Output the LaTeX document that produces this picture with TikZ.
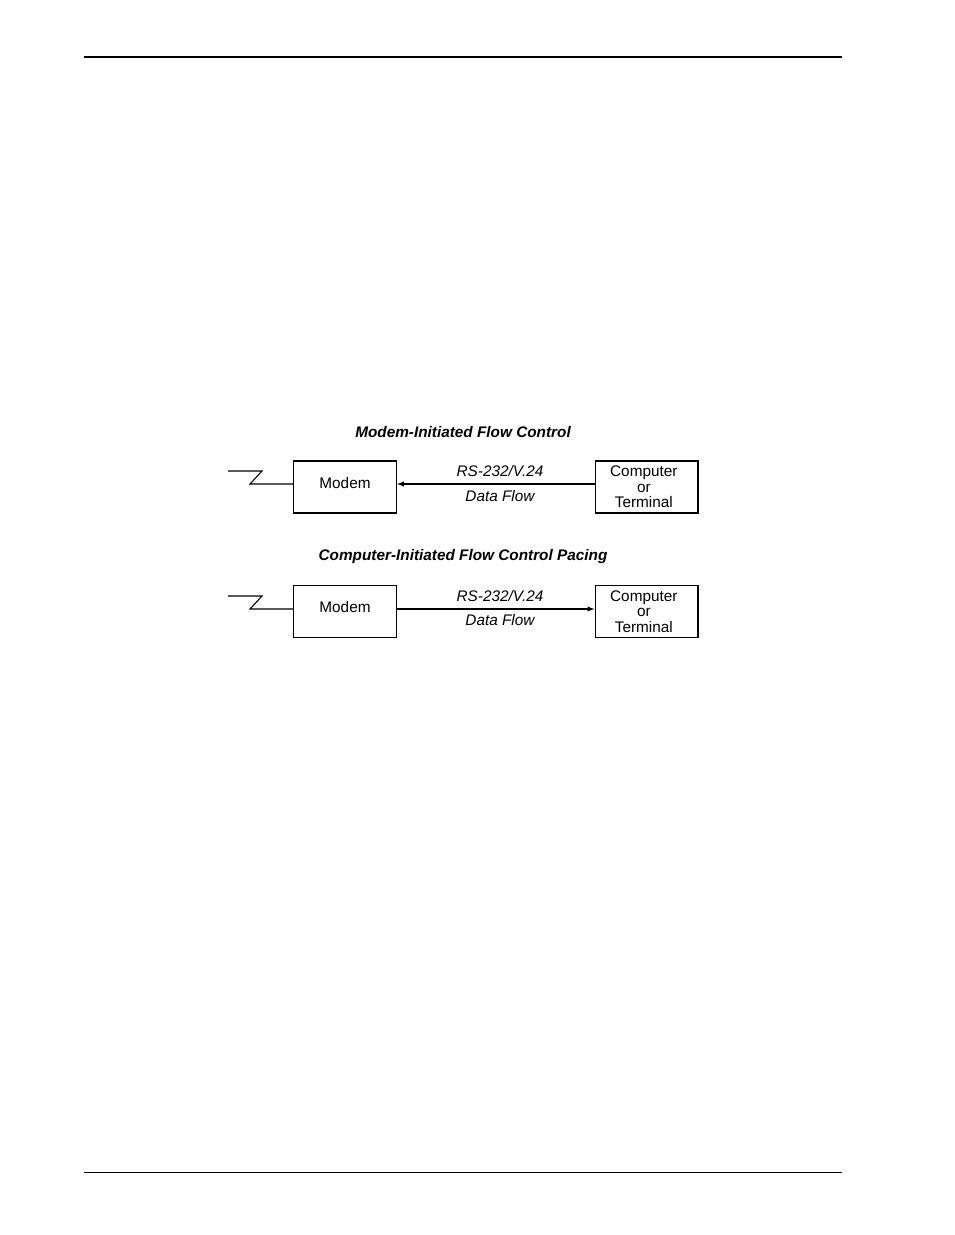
\documentclass[tikz,border=0pt]{standalone}
\usepackage{fontspec}
\setmainfont{Liberation Sans}
\usetikzlibrary{positioning}
\tikzset{
  unit/.style={draw, line width=1pt, minimum width=77pt, minimum height=39pt, inner sep=0pt},
  utext/.style={font=\fontsize{11.5}{11.5}\selectfont, align=center, inner sep=0pt},
  lbl/.style={font=\fontsize{11.5}{12}\selectfont\itshape},
  ttl/.style={font=\fontsize{11.5}{12}\selectfont\bfseries\itshape}
}
\begin{document}
\begin{tikzpicture}[x=0.75pt,y=-0.75pt]
  \useasboundingbox (0,0) rectangle (954,1235);
  \draw[line width=1pt] (84,57) -- (842,57);
  \draw[line width=0.6pt] (84,1172) -- (842,1172);
  % modem-initiated
  \node[ttl] (t1) at (463,432) {Modem-Initiated Flow Control};
  \node[unit,label={[utext,yshift=3pt]center:Modem}] (m1) at (345,487) {};
  \node[unit,label={[utext,xshift=-2pt]center:Computer\\or\\Terminal}] (c1) at (646.5,487) {};
  \draw[line width=0.8pt] (228,471) -- (262,471) -- (250,484) -- (m1.west |- 0,484);
  \draw[line width=0.8pt,-latex] (c1.west |- 0,484) -- (m1.east |- 0,484);
  \node[lbl] (r1) at (500,471) {RS-232/V.24};
  \node[lbl] (d1) at (500,496) {Data Flow};
  % computer-initiated
  \node[ttl] (t2) at (463,557) {Computer-Initiated Flow Control Pacing};
  \node[unit,label={[utext,yshift=3pt]center:Modem}] (m2) at (345,611.5) {};
  \node[unit,label={[utext,xshift=-2pt]center:Computer\\or\\Terminal}] (c2) at (646.5,611.5) {};
  \draw[line width=0.8pt] (228,596) -- (262,596) -- (250,609) -- (m2.west |- 0,609);
  \draw[line width=0.8pt,-latex] (m2.east |- 0,609) -- (c2.west |- 0,609);
  \node[lbl] (r2) at (500,596) {RS-232/V.24};
  \node[lbl] (d2) at (500,620) {Data Flow};
\end{tikzpicture}
\end{document}
